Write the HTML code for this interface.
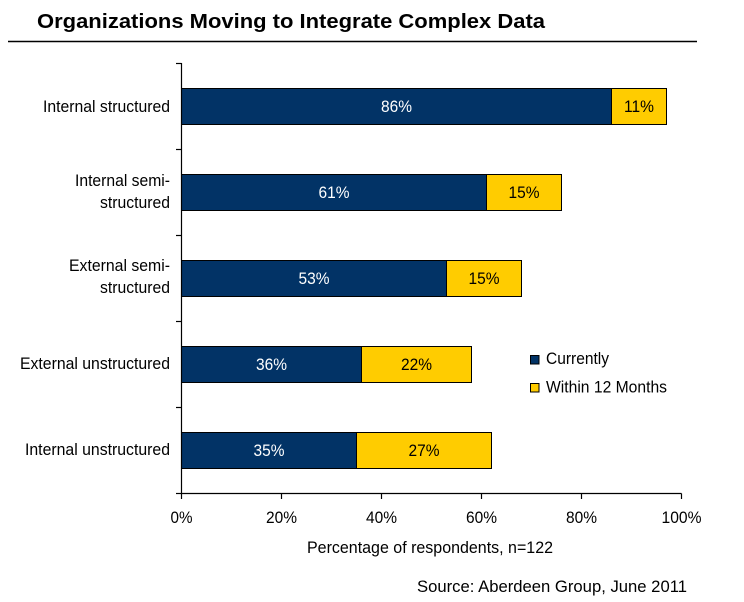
<!DOCTYPE html>
<html><head><meta charset="utf-8"><style>
html,body{margin:0;padding:0;background:#fff;}
svg{display:block;}
text{font-family:"Liberation Sans",Arial,sans-serif;}
</style></head><body>
<svg width="744" height="602" viewBox="0 0 744 602" xmlns="http://www.w3.org/2000/svg">
<rect width="744" height="602" fill="#fff"/>
<text x="37" y="28" font-size="20" font-weight="bold" fill="#000" textLength="508" lengthAdjust="spacingAndGlyphs">Organizations Moving to Integrate Complex Data</text>
<line x1="8" y1="41.5" x2="697" y2="41.5" stroke="#000" stroke-width="1.5"/>

<!-- bars -->
<g stroke="#000" stroke-width="1">
<rect x="181.5" y="88.5" width="430" height="36" fill="#023366"/>
<rect x="611.5" y="88.5" width="55" height="36" fill="#FFCC00"/>
<rect x="181.5" y="174.5" width="305" height="36" fill="#023366"/>
<rect x="486.5" y="174.5" width="75" height="36" fill="#FFCC00"/>
<rect x="181.5" y="260.5" width="265" height="36" fill="#023366"/>
<rect x="446.5" y="260.5" width="75" height="36" fill="#FFCC00"/>
<rect x="181.5" y="346.5" width="180" height="36" fill="#023366"/>
<rect x="361.5" y="346.5" width="110" height="36" fill="#FFCC00"/>
<rect x="181.5" y="432.5" width="175" height="36" fill="#023366"/>
<rect x="356.5" y="432.5" width="135" height="36" fill="#FFCC00"/>
</g>

<!-- value labels -->
<g font-size="16.5" text-anchor="middle">
<text x="396.5" y="112" fill="#fff" textLength="31" lengthAdjust="spacingAndGlyphs">86%</text>
<text x="639" y="112" fill="#000" textLength="30" lengthAdjust="spacingAndGlyphs">11%</text>
<text x="334" y="198" fill="#fff" textLength="31" lengthAdjust="spacingAndGlyphs">61%</text>
<text x="524" y="198" fill="#000" textLength="31" lengthAdjust="spacingAndGlyphs">15%</text>
<text x="314" y="284" fill="#fff" textLength="31" lengthAdjust="spacingAndGlyphs">53%</text>
<text x="484" y="284" fill="#000" textLength="31" lengthAdjust="spacingAndGlyphs">15%</text>
<text x="271.5" y="370" fill="#fff" textLength="31" lengthAdjust="spacingAndGlyphs">36%</text>
<text x="416.5" y="370" fill="#000" textLength="31" lengthAdjust="spacingAndGlyphs">22%</text>
<text x="269" y="456" fill="#fff" textLength="31" lengthAdjust="spacingAndGlyphs">35%</text>
<text x="424" y="456" fill="#000" textLength="31" lengthAdjust="spacingAndGlyphs">27%</text>
</g>

<!-- axes -->
<g stroke="#000" stroke-width="1.2" fill="none">
<line x1="181.5" y1="63" x2="181.5" y2="493.5"/>
<line x1="181" y1="493.5" x2="681.5" y2="493.5"/>
<line x1="176" y1="63.5" x2="181.5" y2="63.5"/>
<line x1="176" y1="149.5" x2="181.5" y2="149.5"/>
<line x1="176" y1="235.5" x2="181.5" y2="235.5"/>
<line x1="176" y1="321.5" x2="181.5" y2="321.5"/>
<line x1="176" y1="407.5" x2="181.5" y2="407.5"/>
<line x1="176" y1="493.5" x2="181.5" y2="493.5"/>
<line x1="181.5" y1="493.5" x2="181.5" y2="499"/>
<line x1="281.5" y1="493.5" x2="281.5" y2="499"/>
<line x1="381.5" y1="493.5" x2="381.5" y2="499"/>
<line x1="481.5" y1="493.5" x2="481.5" y2="499"/>
<line x1="581.5" y1="493.5" x2="581.5" y2="499"/>
<line x1="681.5" y1="493.5" x2="681.5" y2="499"/>
</g>

<!-- tick labels -->
<g font-size="16.5" text-anchor="middle" fill="#000">
<text x="181.5" y="523" textLength="22" lengthAdjust="spacingAndGlyphs">0%</text>
<text x="281.5" y="523" textLength="31" lengthAdjust="spacingAndGlyphs">20%</text>
<text x="381.5" y="523" textLength="31" lengthAdjust="spacingAndGlyphs">40%</text>
<text x="481.5" y="523" textLength="31" lengthAdjust="spacingAndGlyphs">60%</text>
<text x="581.5" y="523" textLength="31" lengthAdjust="spacingAndGlyphs">80%</text>
<text x="681.5" y="523" textLength="40" lengthAdjust="spacingAndGlyphs">100%</text>
</g>
<text x="307" y="553" font-size="16.5" fill="#000" textLength="246" lengthAdjust="spacingAndGlyphs">Percentage of respondents, n=122</text>

<!-- category labels -->
<g font-size="16.5" text-anchor="end" fill="#000">
<text x="170" y="112" textLength="127" lengthAdjust="spacingAndGlyphs">Internal structured</text>
<text x="170" y="186" textLength="95" lengthAdjust="spacingAndGlyphs">Internal semi-</text>
<text x="170" y="208" textLength="70" lengthAdjust="spacingAndGlyphs">structured</text>
<text x="170" y="271" textLength="101" lengthAdjust="spacingAndGlyphs">External semi-</text>
<text x="170" y="293" textLength="70" lengthAdjust="spacingAndGlyphs">structured</text>
<text x="170" y="369" textLength="150" lengthAdjust="spacingAndGlyphs">External unstructured</text>
<text x="170" y="455" textLength="145" lengthAdjust="spacingAndGlyphs">Internal unstructured</text>
</g>

<!-- legend -->
<rect x="530.5" y="355.5" width="8.5" height="8.5" fill="#023366" stroke="#000" stroke-width="1"/>
<rect x="530.5" y="383.5" width="8.5" height="8.5" fill="#FFCC00" stroke="#000" stroke-width="1"/>
<text x="546" y="364" font-size="16.5" fill="#000" textLength="63" lengthAdjust="spacingAndGlyphs">Currently</text>
<text x="546" y="392.5" font-size="16.5" fill="#000" textLength="121" lengthAdjust="spacingAndGlyphs">Within 12 Months</text>

<text x="417" y="592" font-size="17" fill="#000" textLength="270" lengthAdjust="spacingAndGlyphs">Source: Aberdeen Group, June 2011</text>
</svg>
</body></html>
